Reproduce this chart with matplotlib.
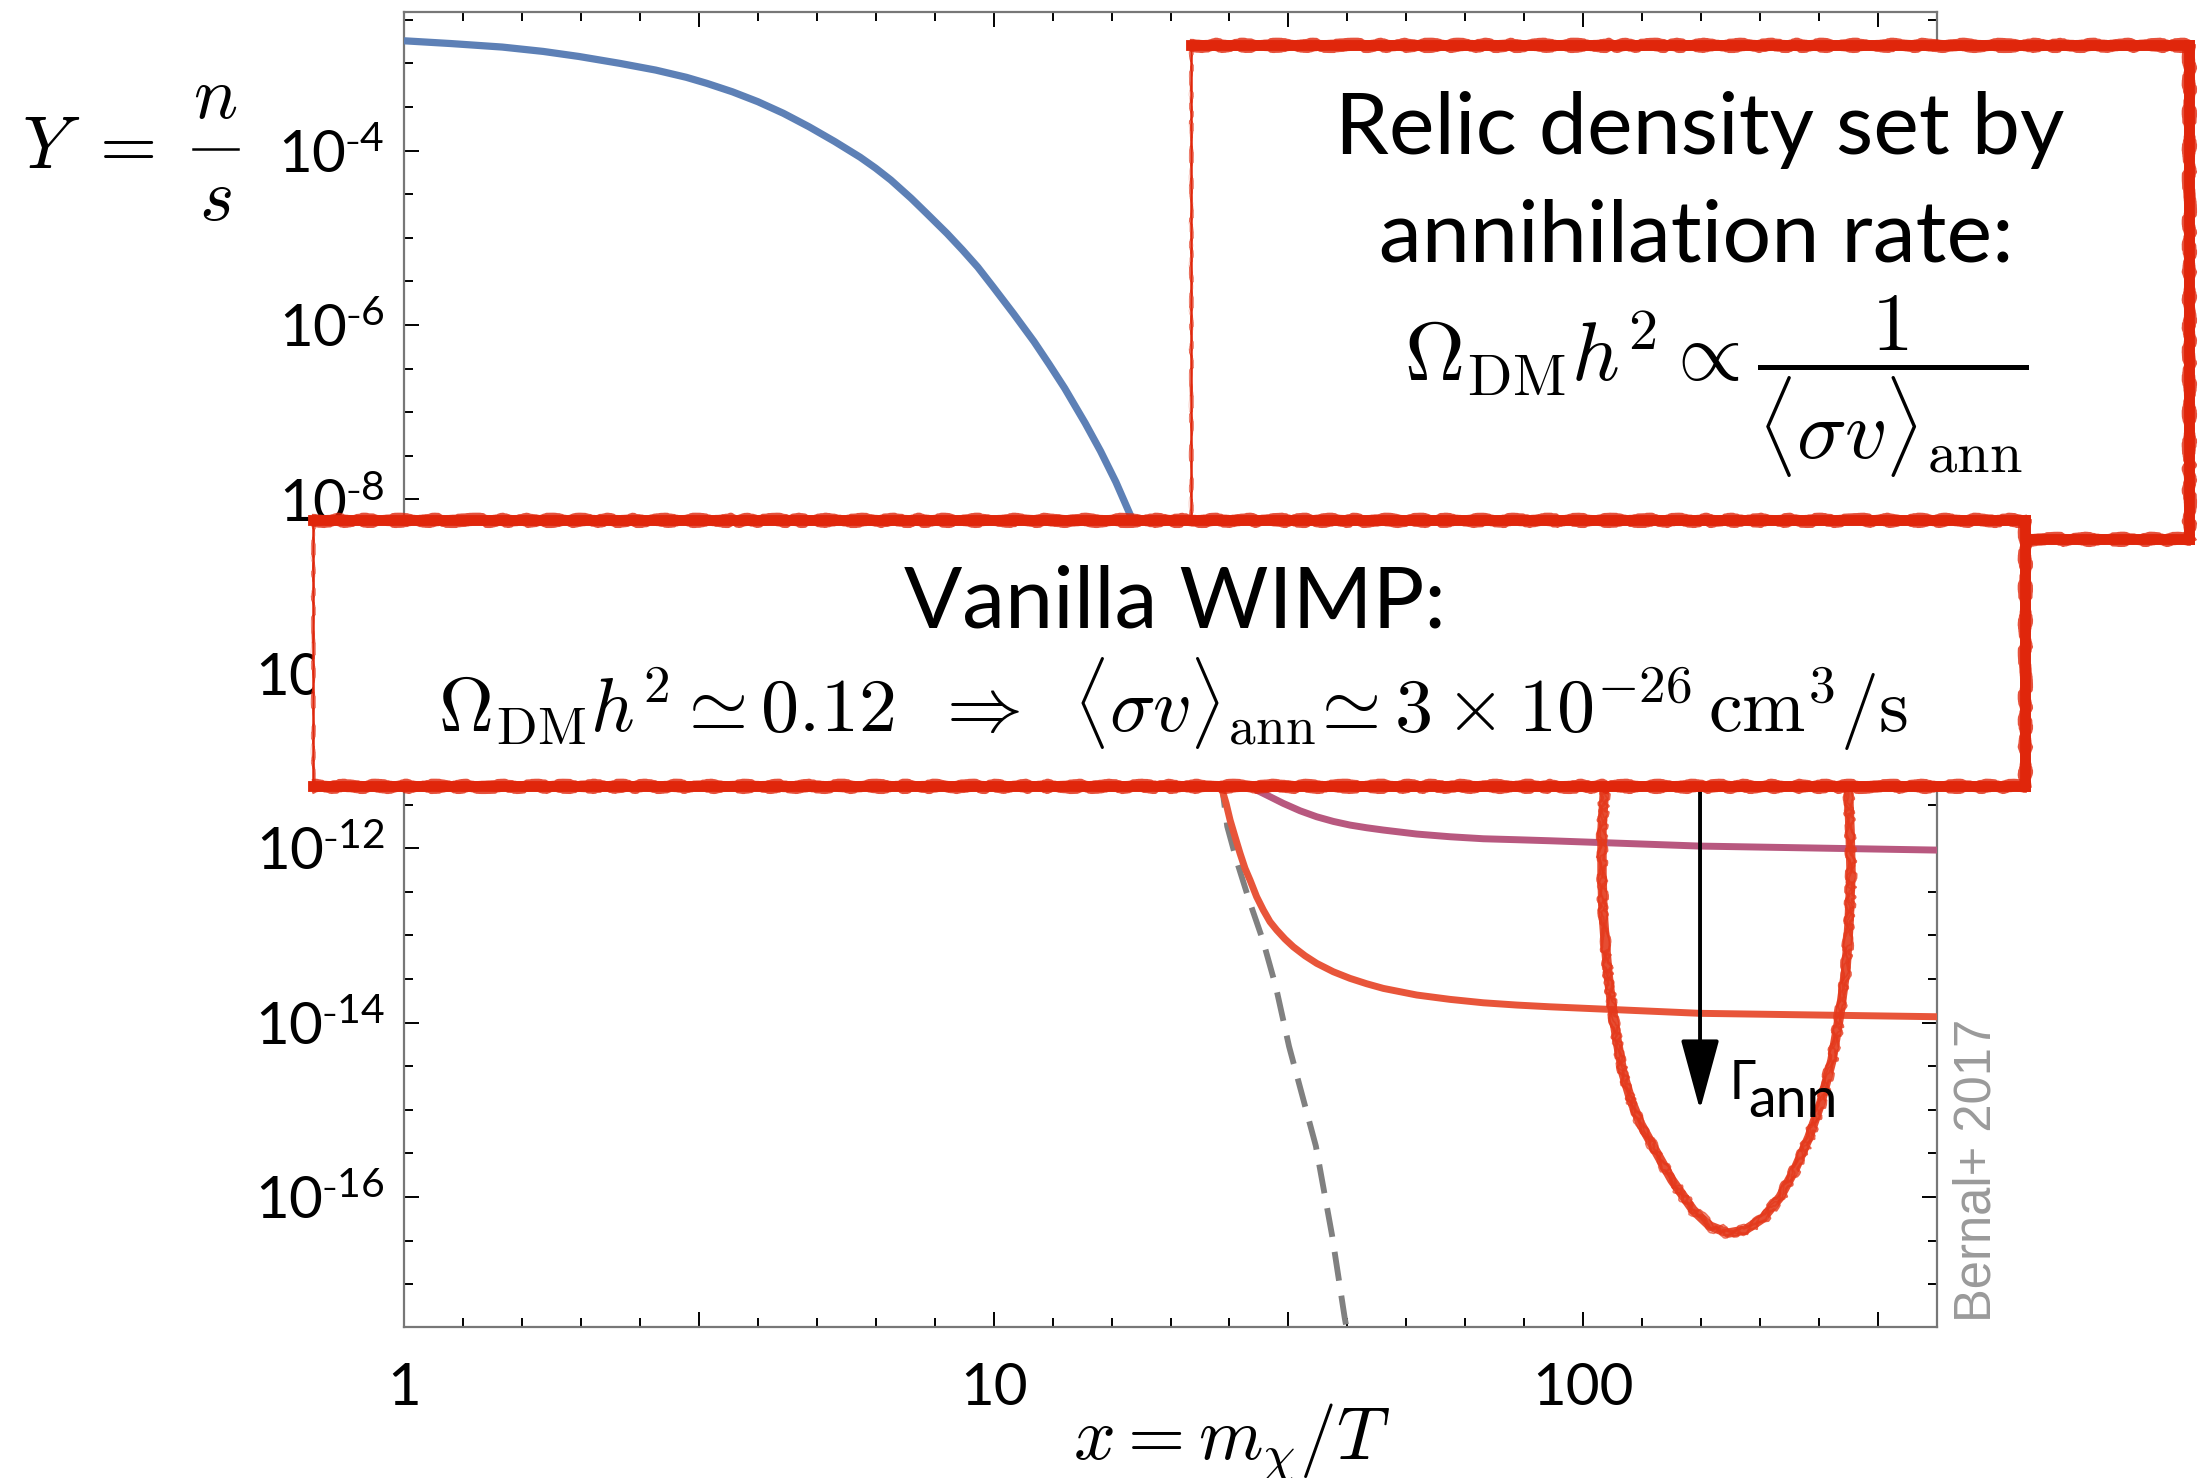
import numpy as np
import matplotlib
matplotlib.use("Agg")
import matplotlib.pyplot as plt
from matplotlib.ticker import FixedLocator, FixedFormatter, NullFormatter
from matplotlib.patches import Rectangle
from matplotlib.lines import Line2D
from matplotlib.transforms import offset_copy

plt.rcParams['mathtext.fontset'] = 'cm'
plt.rcParams['font.family'] = ['Lato', 'DejaVu Sans']

# abundance Y = n/s vs x = m/T, stored as log10(Y)
blue_x = [1.000, 1.202, 1.467, 1.722, 1.980, 2.323, 2.672, 3.012, 3.262, 3.605,
          3.984, 4.401, 4.863, 5.375, 5.937, 6.306, 6.694, 7.249, 7.698, 8.337,
          8.853, 9.398, 9.977, 10.81, 11.71, 12.43, 13.20, 14.30, 15.18, 16.12,
          17.11, 19.5]
blue_logY = [-2.740, -2.772, -2.812, -2.862, -2.920, -2.999, -3.076, -3.159,
             -3.228, -3.325, -3.439, -3.572, -3.726, -3.895, -4.075, -4.200,
             -4.337, -4.547, -4.719, -4.950, -5.138, -5.335, -5.561, -5.870,
             -6.190, -6.452, -6.725, -7.125, -7.445, -7.800, -8.200, -9.3]

magenta_x = [25.0, 27.93, 29.05, 30.99, 33.09, 35.32, 37.68, 40.22, 42.94,
             45.81, 52.20, 59.45, 67.71, 77.13, 87.83, 157.8, 398.2]
magenta_logY = [-10.6, -11.333, -11.390, -11.485, -11.570, -11.639, -11.692,
                -11.734, -11.765, -11.791, -11.837, -11.868, -11.891, -11.902,
                -11.914, -11.975, -12.021]

orange_x = [23.3, 24.37, 24.79, 25.18, 25.67, 26.18, 26.69, 27.22, 27.93, 28.67,
            29.43, 30.21, 31.20, 32.23, 33.74, 35.32, 37.68, 40.22, 42.94, 45.81,
            52.20, 59.45, 67.71, 77.13, 87.83, 157.8, 398.2]
orange_logY = [-10.6, -11.313, -11.485, -11.677, -11.868, -12.059, -12.230,
               -12.365, -12.556, -12.709, -12.843, -12.938, -13.041, -13.130,
               -13.233, -13.320, -13.416, -13.492, -13.554, -13.607, -13.683,
               -13.733, -13.772, -13.798, -13.818, -13.893, -13.932]

# equilibrium abundance (dashed)
eq_x = [24.3, 24.9, 25.8, 27.1, 28.6, 30.1, 31.7, 35.2, 37.5, 39.4, 40.2]
eq_logY = [-11.2, -11.749, -12.131, -12.589, -13.048, -13.584, -14.272,
           -15.415, -16.439, -17.387, -17.7]

# hand-drawn loop around the late-time plateaus
loop_x = [108.9, 107.6, 107.6, 108.0, 108.9, 110.2, 111.9, 114.1, 116.8, 120.5,
          124.9, 132.4, 141.4, 153.6, 164.1, 176.1, 188.2, 201.8, 215.7, 228.7,
          241.5, 253.1, 264.2, 272.6, 279.1, 282.4, 284.6, 283.5, 281.3]
loop_logY = [-11.218, -11.791, -12.284, -12.708, -13.053, -13.454, -13.821,
             -14.200, -14.578, -14.888, -15.151, -15.461, -15.805, -16.149,
             -16.333, -16.413, -16.378, -16.241, -16.000, -15.679, -15.312,
             -14.911, -14.429, -13.890, -13.374, -12.858, -12.284, -11.791,
             -11.218]

arrow_x = 157.8
arrow_logY = (-11.0, -15.0)

xtick_pos = [1, 10**0.5, 10, 10**1.5, 100, 10**2.5]
xtick_labels = ['1', '', '10', '', '100', '']
ytick_exp = [-16, -14, -12, -10, -8, -6, -4]

BLUE = '#5D80B6'
MAGENTA = '#B8587F'
ORANGE = '#E8553A'
RED = '#E0260B'
LOOP = '#E4391C'

W, H = 2198, 1478
fig = plt.figure(figsize=(W / 100, H / 100), dpi=100)


def fx(x):
    return x / W


def fy(y):
    return 1 - y / H


ax = fig.add_axes([fx(404), fy(1327), fx(1937) - fx(404), fy(12) - fy(1327)])
ax.set_xscale('log')
ax.set_yscale('log')
ax.set_xlim(1, 10**2.6)
ax.set_ylim(10**-17.49, 10**-2.41)

ax.plot(eq_x, 10**np.array(eq_logY), color='#808080', lw=4.2,
        dashes=(5.0, 2.6), zorder=2)
ax.plot(orange_x, 10**np.array(orange_logY), color=ORANGE, lw=5.0, zorder=3,
        solid_capstyle='butt')
ax.plot(magenta_x, 10**np.array(magenta_logY), color=MAGENTA, lw=5.0, zorder=3,
        solid_capstyle='butt')
ax.plot(blue_x, 10**np.array(blue_logY), color=BLUE, lw=5.2, zorder=4,
        solid_capstyle='butt')

# rough red loop: one heavy stroke plus a few loose, shifted ones
loop_Y = 10**np.array(loop_logY)
for dx, dy, lw, a, sk in [(0, 0, 6.8, 0.9, None),
                          (-3, 1, 2.0, 0.85, (1.8, 40, 10)),
                          (3, -2, 1.8, 0.8, (2.2, 30, 12)),
                          (1, 3, 1.2, 0.75, (3.0, 50, 8)),
                          (-2, -3, 1.2, 0.7, (2.5, 45, 8))]:
    tr = offset_copy(ax.transData, fig=fig, x=dx, y=dy, units='dots')
    ln, = ax.plot(loop_x, loop_Y, color=LOOP, lw=lw, alpha=a, zorder=5,
                  transform=tr, solid_capstyle='round', solid_joinstyle='round')
    if sk:
        ln.set_sketch_params(*sk)

ax.annotate('', xy=(arrow_x, 10**arrow_logY[1]), xytext=(arrow_x, 10**arrow_logY[0]),
            arrowprops=dict(arrowstyle='-|>,head_length=4.4,head_width=1.2',
                            color='black', lw=2.8, shrinkA=0, shrinkB=0,
                            mutation_scale=10),
            zorder=6)

# axes styling
for sp in ax.spines.values():
    sp.set_color('#777777')
    sp.set_linewidth(1.6)

ax.xaxis.set_major_locator(FixedLocator(xtick_pos))
ax.xaxis.set_major_formatter(FixedFormatter(xtick_labels))
ax.xaxis.set_minor_locator(FixedLocator(10**np.arange(0, 2.61, 0.1)))
ax.xaxis.set_minor_formatter(NullFormatter())
ax.yaxis.set_major_locator(FixedLocator([10.0**e for e in ytick_exp]))
ax.yaxis.set_major_formatter(FixedFormatter(
    [r'$\mathregular{10^{\text{-}%d}}$' % -e for e in ytick_exp]))
ax.yaxis.set_minor_locator(FixedLocator(10**np.arange(-17.0, -2.4, 0.5)))
ax.yaxis.set_minor_formatter(NullFormatter())
ax.tick_params(which='both', direction='in', top=True, right=True,
               width=1.4, color='black')
ax.tick_params(which='major', length=11)
ax.tick_params(which='minor', length=6.5)
ax.tick_params(axis='x', which='major', labelsize=42, pad=25)
ax.tick_params(axis='y', which='major', labelsize=42, pad=14)

# axis labels
fig.text(fx(1232), fy(1460), r'$x = m_\chi/T$', fontsize=53, ha='center',
         va='baseline')
fig.text(fx(22), fy(168), r'$Y\ =$', fontsize=53, ha='left', va='baseline')
fig.text(fx(215), fy(118), r'$n$', fontsize=53, ha='center', va='baseline')
fig.text(fx(215), fy(220), r'$s$', fontsize=53, ha='center', va='baseline')
fig.add_artist(Line2D([fx(193), fx(238)], [fy(149), fy(149)], color='black',
                      lw=1.8, transform=fig.transFigure))

fig.text(fx(1977), fy(1322), 'Bernal+ 2017', family='Liberation Sans',
         fontsize=36.5, color='#9a9a9a', rotation=90, ha='center', va='bottom')
fig.text(fx(1729), fy(1099), 'Γ', family='Noto Sans', fontsize=40,
         ha='left', va='baseline')
fig.text(fx(1748), fy(1117), 'ann', fontsize=40, ha='left', va='baseline')


def rough_edge(xs, ys, lw, z, horizontal):
    strokes = [(0.0, lw, 1.0, None),
               (-0.42, lw * 0.3, 0.8, (1.2, 60, 8)),
               (0.42, lw * 0.25, 0.8, (1.2, 50, 8)),
               (0.1, lw * 0.15, 0.6, (2.0, 80, 6))]
    for off, w, a, sk in strokes:
        d = off * lw * 100 / 72
        if horizontal:
            px, py = xs, [y + d for y in ys]
        else:
            px, py = [x + d for x in xs], ys
        ln = Line2D([fx(v) for v in px], [fy(v) for v in py], color=RED,
                    lw=w, alpha=a, zorder=z, solid_capstyle='projecting',
                    transform=fig.transFigure)
        if sk:
            ln.set_sketch_params(*sk)
        fig.add_artist(ln)


def sketch_box(x0, y0, x1, y1, z):
    fig.add_artist(Rectangle((fx(x0), fy(y1)), fx(x1) - fx(x0), fy(y0) - fy(y1),
                             facecolor='white', edgecolor='none', zorder=z,
                             transform=fig.transFigure))
    rough_edge([x0, x1], [y0, y0], 7.8, z + 0.1, True)
    rough_edge([x1, x1], [y0, y1], 7.8, z + 0.1, False)
    rough_edge([x1, x0], [y1, y1], 7.8, z + 0.1, True)
    rough_edge([x0, x0], [y1, y0], 1.8, z + 0.1, False)


sketch_box(1191, 45, 2189, 539, 10)
fig.text(fx(1700), fy(154), 'Relic density set by', fontsize=62, ha='center',
         va='baseline', zorder=11)
fig.text(fx(1696), fy(262), 'annihilation rate:', fontsize=62, ha='center',
         va='baseline', zorder=11)
fig.text(fx(1716), fy(387),
         r'$\Omega_{\rm DM}h^2 \propto \dfrac{1}{\langle\sigma v\rangle_{\rm ann}}$',
         fontsize=60, ha='center', va='center', zorder=11)

sketch_box(313, 520, 2025, 786, 20)
fig.text(fx(1175), fy(627), 'Vanilla WIMP:', fontsize=62, ha='center',
         va='baseline', zorder=21)
fig.text(fx(1173), fy(732),
         r'$\Omega_{\rm DM}h^2 \simeq 0.12 \;\;\Rightarrow\;\; '
         r'\langle\sigma v\rangle_{\rm ann}\! \simeq 3\times 10^{-26}\,{\rm cm}^3/{\rm s}$',
         fontsize=54.8, ha='center', va='baseline', zorder=21)

fig.savefig('out.png', dpi=100)
